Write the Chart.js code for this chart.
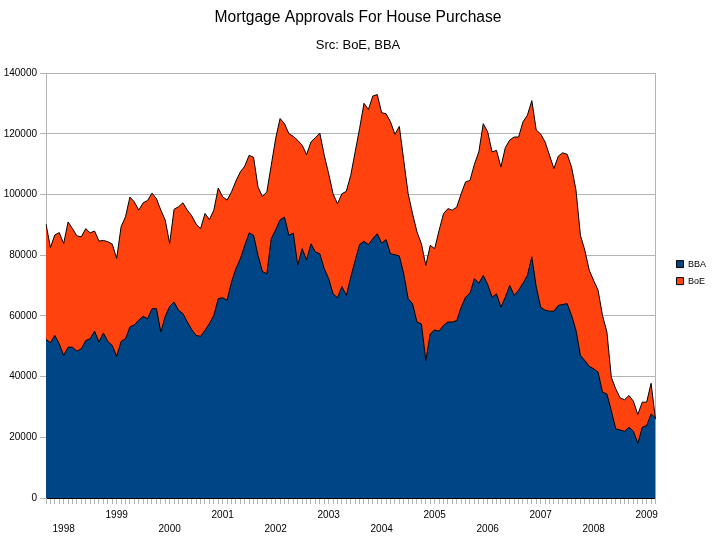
<!DOCTYPE html>
<html>
<head>
<meta charset="utf-8">
<script src="https://cdn.jsdelivr.net/npm/chart.js@4/dist/chart.umd.min.js"></script>
<style>
  html, body { margin: 0; padding: 0; background: #fff; }
  canvas { display: block; }
</style>
</head>
<body>
<canvas id="graph" width="716" height="545"></canvas>
<script>
// monthly series, Sep 1997 .. Mar 2009
const years = ['1998', '1999', '2000', '2001', '2002', '2003', '2004', '2005', '2006', '2007', '2008', '2009'];
const firstJanIndex = 4; // Jan 1998 is the 5th month shown

const bba = [
    52300, 51200, 53600, 50800, 47000, 49700, 49700, 48400, 49200, 51900, 52500, 55000,
    51400, 54400, 51600, 50300, 46700, 51600, 52500, 56400, 57100, 58600, 59900, 59100,
    62400, 62400, 54700, 59900, 63200, 64600, 61900, 60800, 58000, 55500, 53600, 53300,
    55300, 57500, 60200, 65700, 66000, 65200, 71200, 75600, 78900, 83300, 87400, 86600,
    80000, 74700, 73900, 85500, 88400, 91700, 92600, 86600, 87300, 76700, 82200, 78500,
    83800, 81100, 80500, 75600, 72300, 67300, 66000, 69700, 66800, 72800, 78300, 83600,
    84600, 83500, 85500, 87100, 84000, 85200, 80500, 80200, 79800, 73900, 65700, 64000,
    58000, 57400, 45300, 54100, 55400, 55000, 56900, 58000, 58000, 58500, 62900, 66200,
    67500, 72300, 70800, 73400, 70400, 66200, 67300, 62900, 66200, 70100, 66800, 68500,
    70800, 73400, 79500, 69600, 62900, 61900, 61600, 61600, 63500, 63800, 64100, 60200,
    55300, 47000, 45300, 43400, 42600, 41500, 34900, 34300, 28800, 22800, 22400, 22000,
    23300, 22000, 18000, 23300, 23900, 27700, 26400
];

const boe = [
    90300, 82600, 86700, 87500, 83900, 91000, 88800, 86400, 86100, 88800, 87400, 88000,
    84700, 84900, 84500, 83700, 79000, 89400, 92700, 99200, 97600, 94900, 97300, 98100,
    100500, 98700, 94900, 91600, 83900, 95200, 96000, 97300, 94900, 93000, 90300, 88800,
    93800, 91800, 94900, 102200, 99300, 98200, 100900, 104500, 107500, 109400, 113000, 112300,
    102500, 99400, 100900, 109700, 118500, 125100, 123400, 120100, 119200, 117900, 116300, 113200,
    117400, 118800, 120300, 113000, 106900, 100300, 97000, 100300, 101100, 106400, 114100, 121800,
    130100, 128100, 132500, 133000, 127000, 126700, 124000, 119900, 122500, 111300, 100300, 93700,
    87700, 83800, 76700, 83300, 82200, 88200, 93700, 95400, 94900, 95900, 100300, 104200,
    104700, 110000, 114100, 123400, 120700, 114100, 114600, 109100, 115500, 118000, 119000, 119000,
    124000, 126200, 131000, 121300, 120000, 117400, 113000, 108600, 112700, 113800, 113300, 109100,
    101500, 86600, 81700, 75100, 71700, 68500, 60200, 54700, 39800, 36000, 33000, 32400,
    33800, 31900, 27500, 31600, 31600, 37800, 26000
];

// year labels sit on January; odd years on the upper row, even years on the lower one
const labels = bba.map((v, i) => {
    const k = i - firstJanIndex;
    if (k < 0 || k % 12 !== 0) return '';
    const y = years[k / 12];
    return (parseInt(y) % 2 === 1) ? [y] : ['', y];
});

const font = 'Liberation Sans, Arial, sans-serif';
const gridGray = '#b3b3b3';

new Chart(document.getElementById('graph'), {
    type: 'line',
    data: {
        labels: labels,
        datasets: [
            {
                label: 'BBA',
                data: bba,
                backgroundColor: '#004586',
                borderColor: '#000000',
                borderWidth: 1,
                pointRadius: 0,
                fill: 'origin',
                tension: 0
            },
            {
                label: 'BoE',
                data: boe,
                backgroundColor: '#ff420e',
                borderColor: '#000000',
                borderWidth: 1,
                pointRadius: 0,
                fill: 'origin',
                tension: 0
            }
        ]
    },
    options: {
        responsive: false,
        animation: false,
        devicePixelRatio: 1,
        layout: { padding: { top: 0, right: 0, bottom: 5, left: 0 } },
        plugins: {
            title: {
                display: true,
                text: 'Mortgage Approvals For House Purchase',
                color: '#000',
                font: { family: font, size: 15.6, weight: 'normal' },
                padding: { top: 8, bottom: 8 }
            },
            subtitle: {
                display: true,
                text: 'Src: BoE, BBA',
                color: '#000',
                font: { family: font, size: 13, weight: 'normal' },
                padding: { top: 3, bottom: 20 }
            },
            legend: {
                position: 'right',
                title: {
                    display: true,
                    text: '',
                    font: { size: 1 },
                    padding: { top: 4, bottom: 0 }
                },
                labels: {
                    boxWidth: 7,
                    boxHeight: 7,
                    padding: 8,
                    color: '#000',
                    font: { family: font, size: 9 }
                }
            },
            tooltip: { enabled: false }
        },
        scales: {
            x: {
                offset: false,
                grid: {
                    drawOnChartArea: false,
                    color: gridGray,
                    tickLength: 6
                },
                border: { color: '#000' },
                ticks: {
                    autoSkip: false,
                    maxRotation: 0,
                    minRotation: 0,
                    padding: 4,
                    color: '#000',
                    font: { family: font, size: 10, lineHeight: 1.4 }
                }
            },
            y: {
                min: 0,
                max: 140000,
                grid: { color: gridGray, tickLength: 6 },
                border: { color: gridGray },
                ticks: {
                    stepSize: 20000,
                    padding: 3,
                    color: '#000',
                    font: { family: font, size: 10 },
                    callback: (v) => String(v)
                },
                afterFit: (scale) => { scale.width = 46; }
            },
            y2: {
                position: 'right',
                min: 0,
                max: 140000,
                grid: { display: false },
                border: { display: true, color: gridGray },
                ticks: { display: false },
                afterFit: (scale) => { scale.width = 13; }
            }
        }
    }
});
</script>
</body>
</html>
